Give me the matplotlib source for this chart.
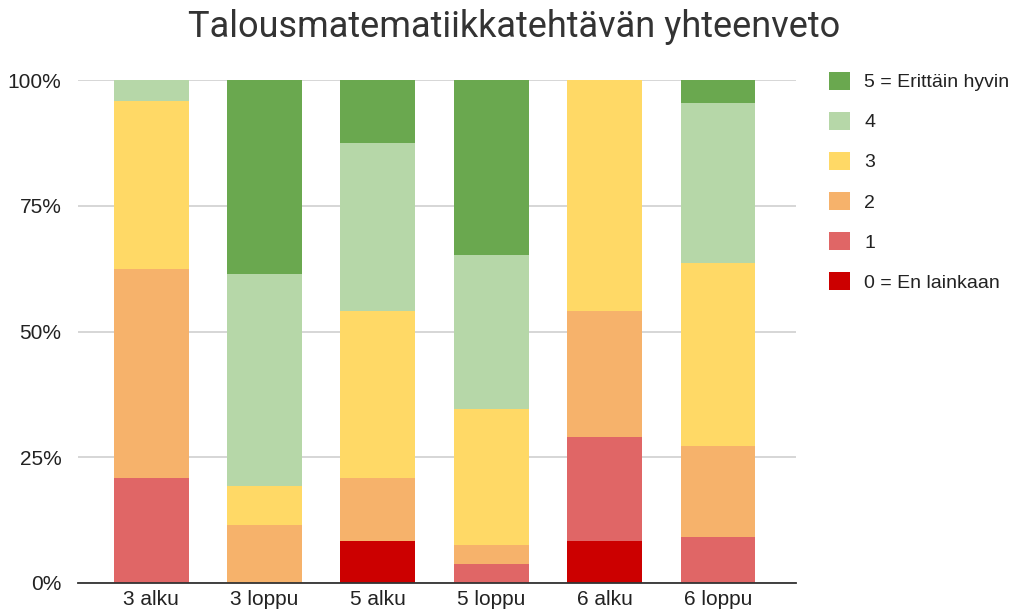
import matplotlib
matplotlib.use("Agg")
import matplotlib.pyplot as plt
from matplotlib.patches import Patch
import numpy as np

categories = ["3 alku", "3 loppu", "5 alku", "5 loppu", "6 alku", "6 loppu"]
levels = ["0 = En lainkaan", "1", "2", "3", "4", "5 = Erittäin hyvin"]
colors = ["#cc0000", "#e06666", "#f6b26b", "#ffd966", "#b6d7a8", "#6aa84f"]

# percentage shares per level (rows: level 0..5, columns: categories)
v0 = [0.0, 0.0, 8.3, 0.0, 8.3, 0.0]
v1 = [20.8, 0.0, 0.0, 3.8, 20.8, 9.1]
v2 = [41.7, 11.5, 12.5, 3.8, 25.0, 18.2]
v3 = [33.3, 7.7, 33.3, 26.9, 45.9, 36.4]
v4 = [4.2, 42.3, 33.4, 30.8, 0.0, 31.8]
v5 = [0.0, 38.5, 12.5, 34.7, 0.0, 4.5]
values = [v0, v1, v2, v3, v4, v5]

plt.rcParams['font.family'] = ['Liberation Sans', 'DejaVu Sans']

fig = plt.figure(figsize=(10.29, 6.16), dpi=100)
ax = fig.add_axes([0.0758, 0.0536, 0.698, 0.8164])

x = np.arange(len(categories))
bottom = np.zeros(len(categories))
for vals, col in zip(values, colors):
    vals = np.array(vals)
    ax.bar(x, vals, bottom=bottom, width=0.66, color=col, zorder=3)
    bottom += vals

ax.set_xlim(-0.645, 5.69)
ax.set_ylim(0, 100)
ax.set_yticks([0, 25, 50, 75, 100])
ax.set_yticklabels(["0%", "25%", "50%", "75%", "100%"])
ax.set_xticks(x)
ax.set_xticklabels(categories)
ax.tick_params(axis='both', length=0, labelsize=15, colors="#222222")
ax.tick_params(axis='x', pad=5)
ax.tick_params(axis='y', pad=12)
ax.grid(axis='y', color="#d0d0d0", linewidth=1.2, zorder=0)
for s in ["top", "right", "left"]:
    ax.spines[s].set_visible(False)
ax.spines["bottom"].set_color("#333333")
ax.spines["bottom"].set_linewidth(1.3)
ax.spines["bottom"].set_zorder(4)

fig.suptitle("Talousmatematiikkatehtävän yhteenveto", x=0.5, y=0.985,
             fontsize=26, color="#333333", va="top", family=["Roboto", "DejaVu Sans"])

handles = [Patch(facecolor=c, edgecolor="none") for c in colors[::-1]]
fig.legend(handles, levels[::-1], loc="upper left", bbox_to_anchor=(0.789, 0.912),
           frameon=False, fontsize=14, handlelength=1.05, handleheight=1.05,
           labelspacing=1.05, handletextpad=0.75, labelcolor="#222222")

fig.savefig("out.png", dpi=100)
